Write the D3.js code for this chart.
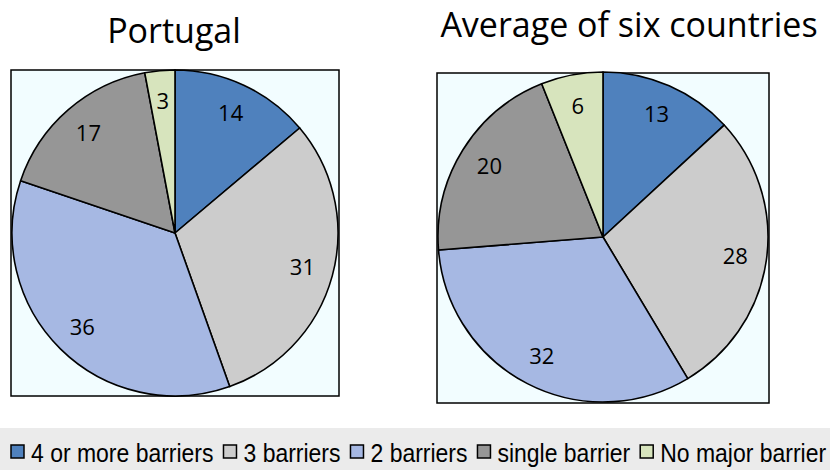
<!DOCTYPE html>
<html>
<head>
<meta charset="utf-8">
<script src="https://cdn.jsdelivr.net/npm/d3@7"></script>
<style>
  body { margin: 0; background: #fff; }
  svg { display: block; }
</style>
</head>
<body>
<svg id="chart" width="830" height="470"></svg>
<script>
// data
var categories = ["4 or more barriers", "3 barriers", "2 barriers", "single barrier", "No major barrier"];
var portugalValues = [14, 31, 36, 17, 3];
var averageValues = [13, 28, 32, 20, 6];
var chartTitles = ["Portugal", "Average of six countries"];
var sliceColors = ["#4f81bd", "#cccccc", "#a6b8e3", "#969696", "#d7e4bd"];

var svg = d3.select("#chart");
var titleFont = "'Open Sans', 'Noto Sans', sans-serif";

var color = d3.scaleOrdinal().domain(categories).range(sliceColors);
var pie = d3.pie().sort(null).value(function(d) { return d.value; });

// one panel per pie: box, pie, labels, title
var panels = [
  { title: chartTitles[0], values: portugalValues, box: [11, 70, 328, 326], cx: 175, cy: 233, r: 163, titleX: 174, titleY: 43 },
  { title: chartTitles[1], values: averageValues, box: [437, 73, 332, 330], cx: 603, cy: 237, r: 165, titleX: 629, titleY: 37 }
];

panels.forEach(function(p) {
  svg.append("rect")
    .attr("x", p.box[0]).attr("y", p.box[1])
    .attr("width", p.box[2]).attr("height", p.box[3])
    .attr("fill", "#f2fdff")
    .attr("stroke", "#000")
    .attr("stroke-width", 1.5);

  var data = categories.map(function(c, i) { return { name: c, value: p.values[i] }; });
  var arcs = pie(data);
  var arc = d3.arc().innerRadius(0).outerRadius(p.r);
  var labelArc = d3.arc().innerRadius(p.r * 0.81).outerRadius(p.r * 0.81);

  var g = svg.append("g").attr("transform", "translate(" + p.cx + "," + p.cy + ")");

  g.selectAll("path")
    .data(arcs)
    .enter()
    .append("path")
    .attr("d", arc)
    .attr("fill", function(d) { return color(d.data.name); })
    .attr("stroke", "#000")
    .attr("stroke-width", 1.6)
    .attr("stroke-linejoin", "round");

  g.selectAll("text")
    .data(arcs)
    .enter()
    .append("text")
    .attr("transform", function(d) { return "translate(" + labelArc.centroid(d) + ")"; })
    .attr("text-anchor", "middle")
    .attr("dy", "0.36em")
    .style("font-family", titleFont)
    .style("font-size", "22px")
    .attr("fill", "#000")
    .text(function(d) { return d.data.value; });

  svg.append("text")
    .attr("x", p.titleX).attr("y", p.titleY)
    .attr("text-anchor", "middle")
    .style("font-family", titleFont)
    .style("font-size", "34px")
    .attr("fill", "#000")
    .text(p.title);
});

// legend band
svg.append("rect")
  .attr("x", 0).attr("y", 428)
  .attr("width", 830).attr("height", 42)
  .attr("fill", "#ebebeb");

// no narrow face installed, so squeeze Liberation Sans horizontally
var squeeze = 0.884;
var legendFont = "'Liberation Sans', Arial, sans-serif";

var legend = svg.append("g").attr("transform", "translate(11,0)");
var xPos = 0;
categories.forEach(function(c) {
  legend.append("rect")
    .attr("x", xPos).attr("y", 445)
    .attr("width", 13).attr("height", 13)
    .attr("fill", color(c))
    .attr("stroke", "#000")
    .attr("stroke-width", 1.5);
  var t = legend.append("text")
    .attr("transform", "translate(" + (xPos + 20) + ",462) scale(" + squeeze + ",1)")
    .style("font-family", legendFont)
    .style("font-size", "26px")
    .attr("fill", "#000")
    .text(c);
  var w = t.node().getComputedTextLength() * squeeze;
  xPos += 20 + w + 10;
});
</script>
</body>
</html>
